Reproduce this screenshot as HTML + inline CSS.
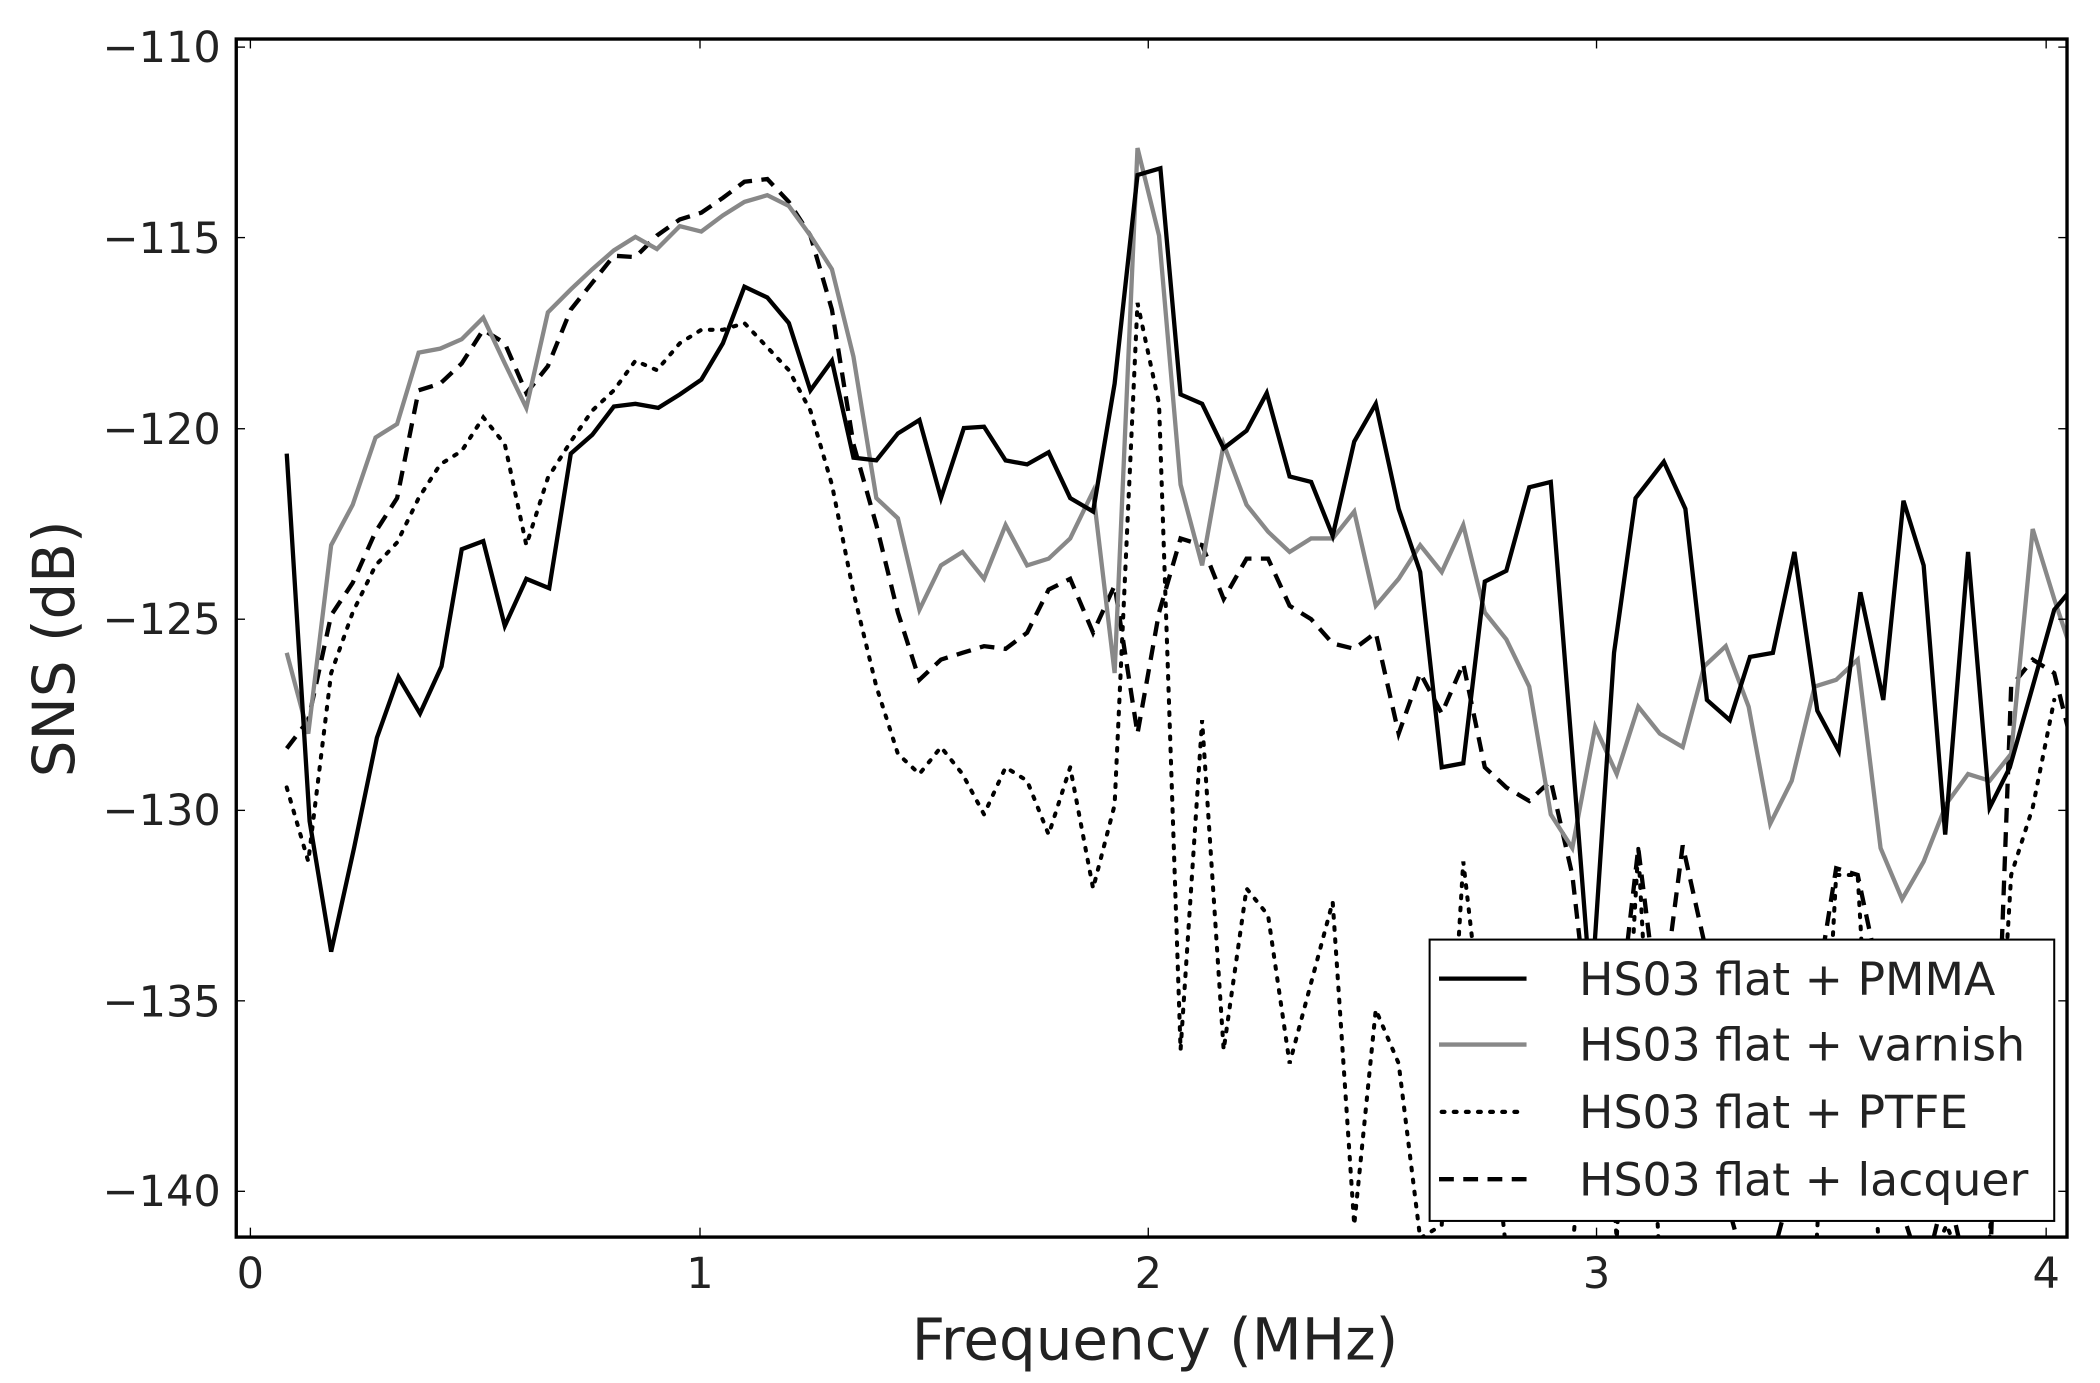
<!DOCTYPE html>
<html><head><meta charset="utf-8"><style>html,body{margin:0;padding:0;background:#fff}svg{display:block}</style></head>
<body>
<svg width="2100" height="1383" viewBox="0 0 1560 1027.4" preserveAspectRatio="none" xmlns="http://www.w3.org/2000/svg" font-family="DejaVu Sans, Liberation Sans, sans-serif">
<defs><clipPath id="c"><rect x="175.5" y="29" width="1360" height="890"/></clipPath></defs>
<rect width="1560" height="1028" fill="#fff"/>
<g clip-path="url(#c)" fill="none" stroke-linejoin="miter">
<polyline stroke="#000" stroke-width="3" stroke-dasharray="2,7" stroke-linecap="round" points="213,585 229,640 246,500 262,455 279,420 295,403 311,370 327,345 343,335 359,310 375,330 391,405 407,355 424,328 440,305 456,290 472,268 488,275 505,255 521,245 537,245 553,240 570,258 586,275 602,305 618,360 634,440 651,510 667,560 683,575 699,555 715,575 731,605 747,570 763,580 779,620 795,570 812,660 828,598 845,225 861,300 877,780 893,535 909,780 926,660 942,680 958,790 974,730 990,670 1006,910 1022,750 1039,790 1055,920 1071,910 1087,640 1103,780 1119,930 1136,960 1152,920 1168,930 1185,730 1201,920 1217,630 1233,940 1250,950 1266,930 1282,950 1299,950 1315,950 1331,920 1348,950 1364,650 1380,650 1397,950 1413,950 1429,950 1446,910 1462,950 1478,920 1494,650 1510,600 1526,520"/>
<polyline stroke="#000" stroke-width="3.2" stroke-dasharray="11,7" points="213,556 229,535 246,457 262,433 279,395 295,370 311,290 327,285 343,270 359,245 375,255 391,292 407,272 424,230 440,210 456,190 472,191 488,175 505,163 521,158 537,147 553,135 570,133 586,150 602,175 618,230 634,330 651,390 667,455 683,505 699,490 715,485 731,480 747,482 763,470 779,438 795,430 812,470 828,435 845,545 861,455 877,400 893,405 909,445 926,415 942,415 958,450 974,460 990,478 1006,482 1022,470 1039,545 1055,500 1071,530 1087,493 1103,570 1119,585 1136,595 1152,580 1168,650 1185,800 1201,770 1217,630 1233,760 1250,628 1266,700 1282,890 1299,950 1315,940 1331,880 1348,745 1364,645 1380,650 1397,730 1413,900 1429,950 1446,880 1462,950 1478,950 1494,510 1510,490 1526,500 1541,560"/>
<polyline stroke="#888" stroke-width="3.2" points="213,485 229,545 246,405 262,375 279,325 295,315 311,262 327,259 343,252 359,236 375,270 391,303 407,232 424,215 440,200 456,186 472,176 488,185 505,168 521,172 537,160 553,150 570,145 586,153 602,175 618,200 634,265 651,370 667,385 683,453 699,420 715,410 731,430 747,390 763,420 779,415 795,400 812,365 828,500 845,110 861,175 877,360 893,420 909,330 926,375 942,395 958,410 974,400 990,400 1006,380 1022,450 1039,430 1055,405 1071,425 1087,390 1103,455 1119,475 1136,510 1152,605 1168,630 1185,540 1201,575 1217,525 1233,545 1250,555 1266,495 1282,480 1299,525 1315,612 1331,580 1348,510 1364,505 1380,490 1397,630 1413,668 1429,640 1446,597 1462,575 1478,580 1494,560 1510,393 1526,445 1541,490"/>
<polyline stroke="#000" stroke-width="3.2" points="213,337 230,610 246,707 263,630 280,548 296,503 312,530 328,495 343,408 359,402 375,465 391,430 408,437 424,337 440,323 456,302 472,300 489,303 505,293 521,282 537,255 553,213 570,221 586,240 602,290 618,268 634,340 651,342 667,322 683,312 699,370 716,318 731,317 747,342 763,345 779,336 795,370 812,380 828,285 845,130 862,125 877,293 893,300 909,333 926,320 941,292 958,354 974,358 990,398 1006,328 1022,300 1039,378 1055,425 1071,570 1087,567 1103,432 1119,424 1136,362 1152,358 1168,560 1182,740 1199,485 1215,370 1236,343 1252,378 1268,520 1285,535 1300,488 1317,485 1333,410 1350,528 1366,558 1382,440 1399,520 1414,372 1429,420 1445,620 1462,410 1478,600 1493,570 1510,510 1526,453 1541,435"/>
</g>
<g stroke="#000" stroke-width="1">
<line x1="186" y1="919" x2="186" y2="912"/><line x1="520" y1="919" x2="520" y2="912"/><line x1="853" y1="919" x2="853" y2="912"/><line x1="1186" y1="919" x2="1186" y2="912"/><line x1="1520" y1="919" x2="1520" y2="912"/>
<line x1="186" y1="29" x2="186" y2="36"/><line x1="520" y1="29" x2="520" y2="36"/><line x1="853" y1="29" x2="853" y2="36"/><line x1="1186" y1="29" x2="1186" y2="36"/><line x1="1520" y1="29" x2="1520" y2="36"/>
<line x1="175.5" y1="35" x2="182" y2="35"/><line x1="175.5" y1="176.5" x2="182" y2="176.5"/><line x1="175.5" y1="318.5" x2="182" y2="318.5"/><line x1="175.5" y1="460" x2="182" y2="460"/><line x1="175.5" y1="602" x2="182" y2="602"/><line x1="175.5" y1="743.5" x2="182" y2="743.5"/><line x1="175.5" y1="885" x2="182" y2="885"/>
<line x1="1535.5" y1="35" x2="1529" y2="35"/><line x1="1535.5" y1="176.5" x2="1529" y2="176.5"/><line x1="1535.5" y1="318.5" x2="1529" y2="318.5"/><line x1="1535.5" y1="460" x2="1529" y2="460"/><line x1="1535.5" y1="602" x2="1529" y2="602"/><line x1="1535.5" y1="743.5" x2="1529" y2="743.5"/><line x1="1535.5" y1="885" x2="1529" y2="885"/>
</g>
<rect x="175.5" y="29" width="1360" height="890" fill="none" stroke="#000" stroke-width="2.5"/>
<g font-size="32" fill="#222" text-anchor="end">
<text x="164" y="46">−110</text><text x="164" y="188">−115</text><text x="164" y="330">−120</text><text x="164" y="471">−125</text><text x="164" y="613">−130</text><text x="164" y="755">−135</text><text x="164" y="896">−140</text>
</g>
<g font-size="32" fill="#222" text-anchor="middle">
<text x="186" y="957">0</text><text x="520" y="957">1</text><text x="853" y="957">2</text><text x="1186" y="957">3</text><text x="1520" y="957">4</text>
</g>
<text x="858" y="1010" font-size="43" fill="#222" text-anchor="middle">Frequency (MHz)</text>
<text transform="translate(55,482) rotate(-90)" font-size="43" fill="#222" text-anchor="middle">SNS (dB)</text>
<rect x="1062" y="698" width="464" height="209" fill="#fff" stroke="#000" stroke-width="1.5"/>
<g fill="none" stroke-width="3.2">
<line x1="1069" y1="727" x2="1134" y2="727" stroke="#000"/>
<line x1="1069" y1="776" x2="1134" y2="776" stroke="#888"/>
<line x1="1071" y1="826" x2="1134" y2="826" stroke="#000" stroke-dasharray="2,7" stroke-linecap="round"/>
<line x1="1069" y1="876" x2="1134" y2="876" stroke="#000" stroke-dasharray="11,7"/>
</g>
<g font-size="34" fill="#222">
<text x="1173" y="739">HS03 flat + PMMA</text>
<text x="1173" y="788">HS03 flat + varnish</text>
<text x="1173" y="838">HS03 flat + PTFE</text>
<text x="1173" y="888">HS03 flat + lacquer</text>
</g>
</svg>
</body></html>
